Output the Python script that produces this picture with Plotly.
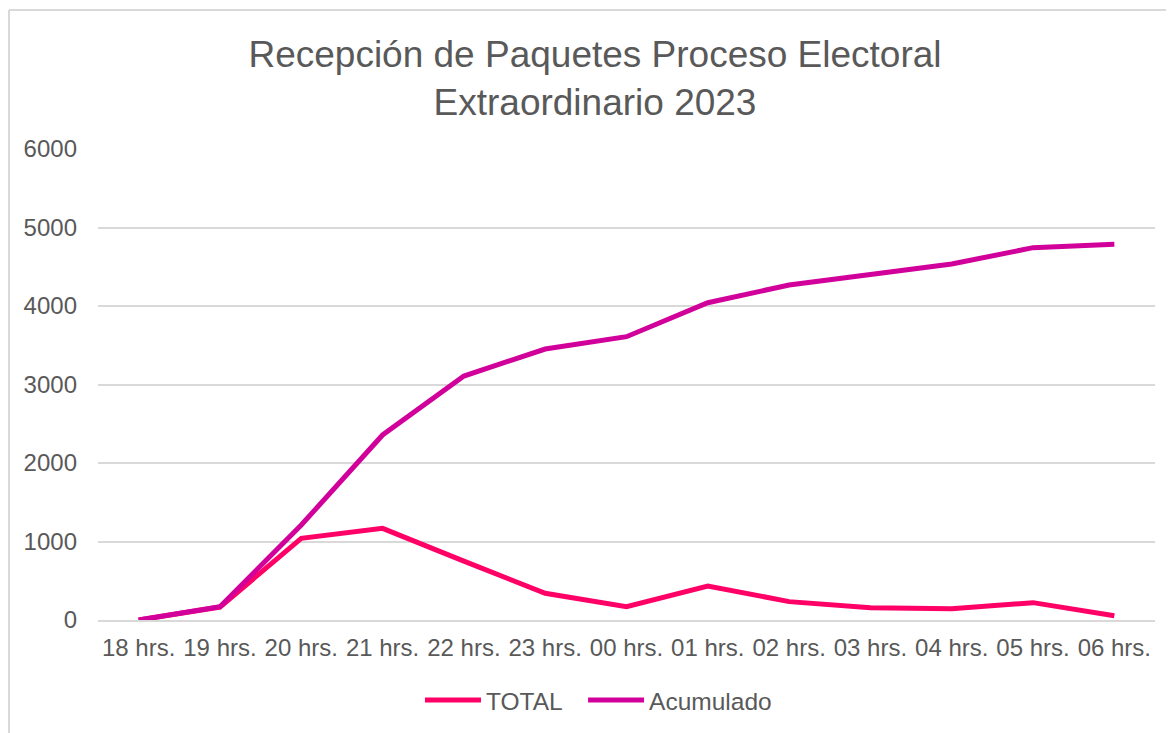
import plotly.graph_objects as go

# horas de recepcion
horas = ["18 hrs.", "19 hrs.", "20 hrs.", "21 hrs.", "22 hrs.", "23 hrs.", "00 hrs.",
         "01 hrs.", "02 hrs.", "03 hrs.", "04 hrs.", "05 hrs.", "06 hrs."]
# paquetes recibidos por hora
total = [0, 165, 1040, 1168, 750, 340, 170, 433, 234, 157, 144, 221, 55]
# acumulado
acumulado = [0, 170, 1210, 2357, 3108, 3452, 3609, 4042, 4268, 4403, 4535, 4743, 4786]

gris = "#595959"
fuente = "Liberation Sans, Arial, sans-serif"

fig = go.Figure()
fig.add_scatter(x=list(range(len(horas))), y=total, mode="lines", name="TOTAL",
                line=dict(color="#FF0066", width=5), legend="legend")
fig.add_scatter(x=list(range(len(horas))), y=acumulado, mode="lines", name="Acumulado",
                line=dict(color="#D1009A", width=5), legend="legend2")

leyenda = dict(orientation="h", xanchor="left", y=-0.17, yanchor="middle",
               font=dict(size=24.5, color=gris), itemwidth=56)

fig.update_layout(
    width=1174, height=733,
    margin=dict(l=90, r=27, t=141, b=121),
    paper_bgcolor="white", plot_bgcolor="white",
    font=dict(family=fuente, color=gris, size=24),
    title=dict(text="Recepción de Paquetes Proceso Electoral<br>Extraordinario 2023",
               x=0.5, xanchor="center", y=0.92, yanchor="middle",
               font=dict(size=37, color=gris, family=fuente)),
    legend=dict(leyenda, x=0.3046),
    legend2=dict(leyenda, x=0.4589),
    showlegend=True,
)
fig.update_xaxes(tickmode="array", tickvals=list(range(len(horas))), ticktext=horas,
                 range=[-0.5, len(horas) - 0.5], showgrid=False, zeroline=False,
                 showline=True, linecolor="#D9D9D9", linewidth=2,
                 ticks="", ticklabelstandoff=5)
fig.update_yaxes(range=[0, 6000], dtick=1000, showgrid=True, gridcolor="#D9D9D9",
                 gridwidth=1.5, zeroline=False, showline=False, ticks="",
                 ticklabelstandoff=20)

# borde del area del grafico (solo izquierdo y superior visibles)
px_x = lambda p: (p - 90) / 1057
px_y = lambda p: (612 - p) / 471
fig.add_shape(type="line", xref="paper", yref="paper", x0=px_x(1), x1=px_x(1),
              y0=px_y(2), y1=px_y(740), line=dict(color="#D9D9D9", width=2))
fig.add_shape(type="line", xref="paper", yref="paper", x0=px_x(1), x1=px_x(1180),
              y0=px_y(2), y1=px_y(2), line=dict(color="#D9D9D9", width=2))

fig.write_html("out.html")
